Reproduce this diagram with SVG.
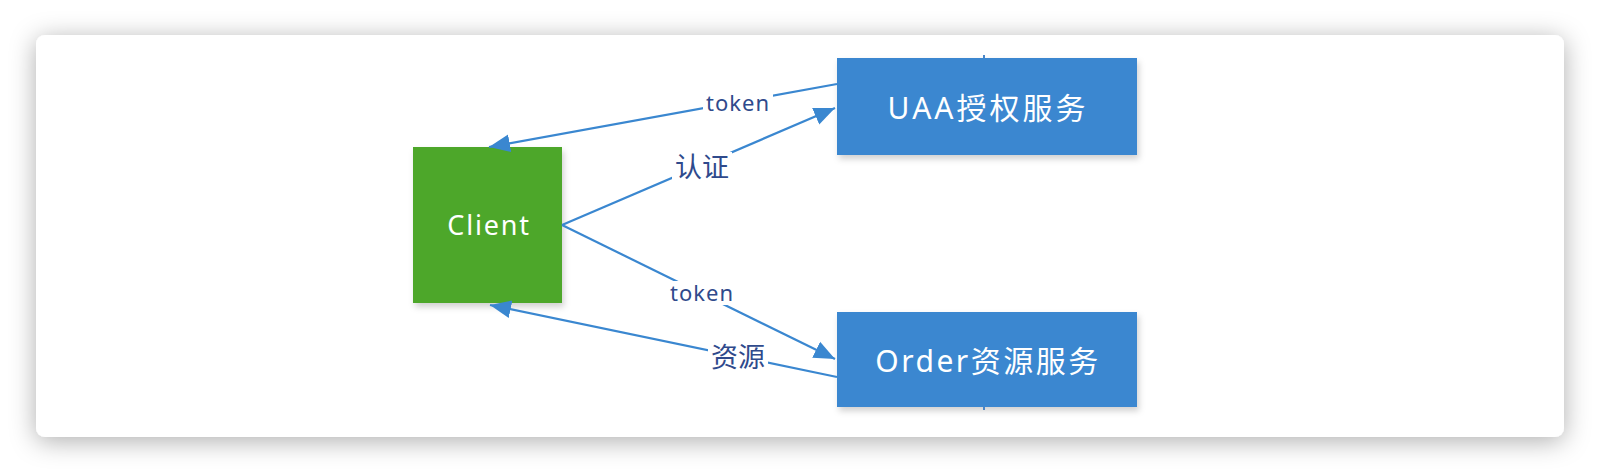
<svg xmlns="http://www.w3.org/2000/svg" width="1600" height="474" viewBox="0 0 1600 474">
  <defs>
    <filter id="cardShadow" x="-10%" y="-30%" width="120%" height="160%">
      <feDropShadow dx="0" dy="4" stdDeviation="13" flood-color="#000" flood-opacity="0.32"/>
    </filter>
    <filter id="nodeShadow" x="-10%" y="-10%" width="125%" height="130%">
      <feDropShadow dx="2" dy="4" stdDeviation="3" flood-color="#000" flood-opacity="0.18"/>
    </filter>
    <marker id="arrow" markerUnits="userSpaceOnUse" markerWidth="22" markerHeight="20" viewBox="0 0 22 20" refX="21" refY="10" orient="auto">
      <path d="M0,1 L21,10 L0,19 Z" fill="#3A87D0"/>
    </marker>
    <style>
      .edge { stroke: #3A87D0; stroke-width: 2.2; fill: none; marker-end: url(#arrow); }
      .lbl { font-family: "Noto Sans", "Noto Sans CJK SC", sans-serif; fill: #2F4A8C; text-anchor: middle; }
      .lblbg { fill: #ffffff; }
      .ntxt { font-family: "Noto Sans", "Noto Sans CJK SC", sans-serif; fill: #ffffff; text-anchor: middle; }
    </style>
  </defs>

  <rect x="0" y="0" width="1600" height="474" fill="#ffffff"/>
  <rect x="36" y="35" width="1528" height="402" rx="9" ry="9" fill="#ffffff" filter="url(#cardShadow)"/>

  <g id="client">
    <rect x="413" y="147" width="149" height="156" fill="#4EA72A" filter="url(#nodeShadow)"/>
    <text class="ntxt" x="489" y="235" font-size="27" letter-spacing="1.8">Client</text>
  </g>

  <g id="uaa">
    <rect x="837" y="58" width="300" height="97" fill="#3A87D0" filter="url(#nodeShadow)"/>
    <rect x="983" y="55" width="2" height="3" fill="#4A86C8"/>
    <text class="ntxt" x="988" y="119" font-size="30" letter-spacing="3">UAA授权服务</text>
  </g>

  <g id="order">
    <rect x="837" y="312" width="300" height="95" fill="#3A87D0" filter="url(#nodeShadow)"/>
    <rect x="983" y="407" width="2" height="3" fill="#4A86C8"/>
    <text class="ntxt" x="988" y="372" font-size="30" letter-spacing="2.5">Order资源服务</text>
  </g>

  <g id="connectors">
    <line class="edge" x1="837" y1="84" x2="489" y2="147"/>
    <line class="edge" x1="562" y1="225" x2="835" y2="108"/>
    <line class="edge" x1="562" y1="225" x2="835" y2="359"/>
    <line class="edge" x1="837" y1="377" x2="490" y2="305"/>

    <rect class="lblbg" x="703" y="91" width="70" height="24"/>
    <text class="lbl" x="738" y="111" font-size="22" letter-spacing="1">token</text>

    <rect class="lblbg" x="672" y="152" width="60" height="30"/>
    <text class="lbl" x="702" y="177" font-size="27">认证</text>

    <rect class="lblbg" x="667" y="281" width="70" height="24"/>
    <text class="lbl" x="702" y="301" font-size="22" letter-spacing="1">token</text>

    <rect class="lblbg" x="708" y="342" width="60" height="30"/>
    <text class="lbl" x="738" y="367" font-size="27">资源</text>
  </g>
</svg>
